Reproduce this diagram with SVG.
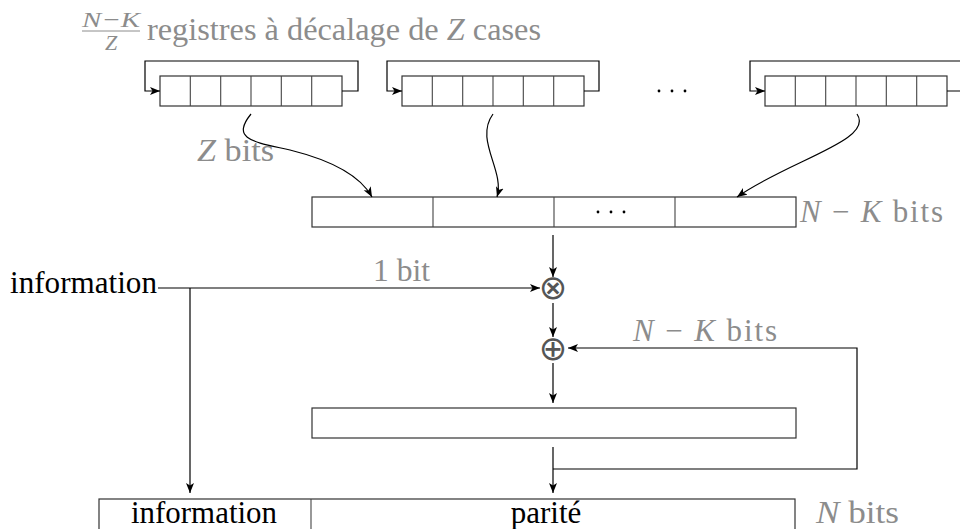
<svg xmlns="http://www.w3.org/2000/svg" width="960" height="529" viewBox="0 0 960 529" font-family="'Liberation Serif', 'DejaVu Serif', 'Times New Roman', serif">
<defs>
<marker id="arr" markerUnits="userSpaceOnUse" markerWidth="11" markerHeight="9" refX="10" refY="4.5" orient="auto">
<path d="M0,0.5 L10,4.5 L0,8.5 L2.5,4.5 Z" fill="#000"/>
</marker>
<style>
.t{font-family:'Liberation Serif','DejaVu Serif','Times New Roman',serif;font-size:31px;fill:#000}
.g{fill:#8c8c8c}
.i{font-style:italic}
.box{fill:none;stroke:#333;stroke-width:1.2}
.cell{stroke:#444;stroke-width:1.1}
.ar{fill:none;stroke:#000;stroke-width:1.2;marker-end:url(#arr)}
.op{font-family:'DejaVu Sans',sans-serif;font-size:34px;fill:#555}
</style>
</defs>
<rect width="960" height="529" fill="#fff"/>

<g id="title">
<text class="t g i" x="82" y="27" style="font-size:22px" textLength="58" lengthAdjust="spacingAndGlyphs">N−K</text>
<line x1="82" y1="31" x2="140" y2="31" stroke="#8c8c8c" stroke-width="1"/>
<text class="t g i" x="111" y="50" text-anchor="middle" style="font-size:22px">Z</text>
<text class="t g" x="147" y="40" textLength="394" lengthAdjust="spacingAndGlyphs">registres à décalage de <tspan class="i">Z</tspan> cases</text>
</g>

<g id="reg1">
<rect class="box" x="160" y="76" width="182" height="30"/>
<path class="cell" d="M190.3,76V106M220.7,76V106M251,76V106M281.3,76V106M311.7,76V106"/>
</g>
<g id="reg2">
<rect class="box" x="402" y="76" width="182" height="30"/>
<path class="cell" d="M432.3,76V106M462.7,76V106M493,76V106M523.3,76V106M553.7,76V106"/>
</g>
<g id="dots1">
<circle cx="659" cy="91" r="1.4" fill="#000"/><circle cx="672" cy="91" r="1.4" fill="#000"/><circle cx="685" cy="91" r="1.4" fill="#000"/>
</g>
<g id="reg3">
<rect class="box" x="765" y="76" width="182" height="30"/>
<path class="cell" d="M795.3,76V106M825.7,76V106M856,76V106M886.3,76V106M916.7,76V106"/>
</g>

<g id="zbits"><text class="t g" x="197" y="161" textLength="77" lengthAdjust="spacingAndGlyphs"><tspan class="i">Z</tspan> bits</text></g>

<g id="mid">
<rect class="box" x="312" y="197" width="484" height="30"/>
<path class="cell" d="M433,197V227M554,197V227M675,197V227"/>
<circle cx="598" cy="212" r="1.4" fill="#000"/><circle cx="611" cy="212" r="1.4" fill="#000"/><circle cx="624" cy="212" r="1.4" fill="#000"/>
<text class="t g" x="800" y="222" textLength="143" lengthAdjust="spacing"><tspan class="i">N</tspan> − <tspan class="i">K</tspan> bits</text>
</g>

<g id="info-in"><text class="t" x="10" y="293" textLength="147" lengthAdjust="spacingAndGlyphs">information</text></g>
<g id="onebit"><text class="t g" x="373" y="281" textLength="57" lengthAdjust="spacingAndGlyphs">1 bit</text></g>

<g id="mul"><text class="op" x="553" y="299" text-anchor="middle">⊗</text></g>
<g id="add"><text class="op" x="553" y="360" text-anchor="middle">⊕</text></g>

<g id="fbl"><text class="t g" x="633" y="341" textLength="144" lengthAdjust="spacing"><tspan class="i">N</tspan> − <tspan class="i">K</tspan> bits</text></g>

<g id="acc"><rect class="box" x="312" y="408" width="484" height="30"/></g>

<g id="out">
<rect class="box" x="99" y="499" width="696" height="40"/>
<line class="cell" x1="311" y1="499" x2="311" y2="529"/>
<text class="t" x="131" y="523" textLength="146" lengthAdjust="spacingAndGlyphs">information</text>
<text class="t" x="546" y="523" text-anchor="middle">parité</text>
<text class="t g" x="816" y="523" textLength="83" lengthAdjust="spacingAndGlyphs"><tspan class="i">N</tspan> bits</text>
</g>

<g id="connectors">
<path class="ar" d="M342,91H358V61H145V91H160"/>
<path class="ar" d="M584,91H599V61H387V91H402"/>
<path class="ar" d="M947,91H962V61H750V91H765"/>
<path class="ar" d="M251,114 C230,140 255,142 290,150 C330,160 360,175 372,197"/>
<path class="ar" d="M493,114 C474,140 505,170 497,197"/>
<path class="ar" d="M857,114 C875,140 790,160 737,197"/>
<path class="ar" d="M553,235V277"/>
<path class="ar" d="M553,303V337"/>
<path class="ar" d="M553,363V403"/>
<path class="ar" d="M158,288H540"/>
<path class="ar" d="M190,288V493"/>
<path class="ar" d="M553,447V493"/>
<path class="ar" d="M553,469H857V348H568"/>
</g>
</svg>
